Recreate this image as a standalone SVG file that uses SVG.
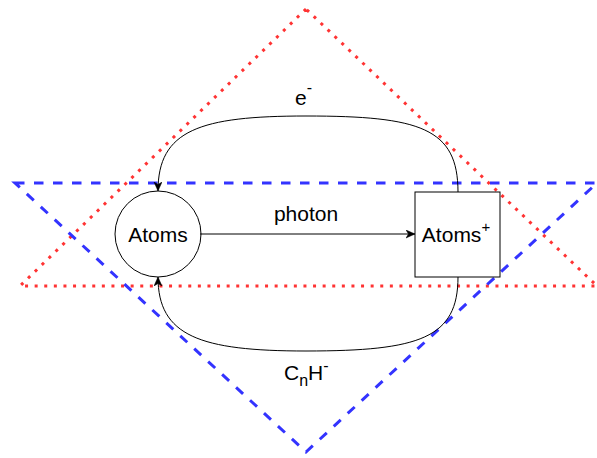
<svg xmlns="http://www.w3.org/2000/svg" width="597" height="458" viewBox="0 0 597 458">
  <style>
    .lbl { font-family: "Liberation Sans", Arial, sans-serif; font-size: 21px; fill: #000; }
    .node { fill: #fff; stroke: #000; stroke-width: 1; }
    .edge { fill: none; stroke: #000; stroke-width: 1; }
    .red { fill: none; stroke: #FF3333; stroke-width: 3; stroke-dasharray: 3 6.6; }
    .blue { fill: none; stroke: #3333FF; stroke-width: 3; stroke-dasharray: 9.5 9.5; }
  </style>
  <defs>
    <marker id="arrow" markerUnits="userSpaceOnUse" markerWidth="12" markerHeight="10" refX="9" refY="4" orient="auto">
      <path d="M0,0 L9,4 L0,8 L2.5,4 Z" fill="#000" stroke="#000" stroke-width="0.5"/>
    </marker>
  </defs>

  <g id="triangles">
    <polygon class="red" points="306,9 20,286 597,286"/>
    <polygon class="blue" points="15,183 597,183 306,452"/>
  </g>

  <g id="node-atoms">
    <ellipse class="node" cx="158" cy="234" rx="43" ry="43"/>
    <text class="lbl" x="158" y="242" text-anchor="middle">Atoms</text>
  </g>

  <g id="node-atoms-plus">
    <rect class="node" x="415" y="192" width="85" height="85"/>
    <text class="lbl" x="456" y="242" text-anchor="middle">Atoms<tspan font-size="15" dy="-10">+</tspan></text>
  </g>

  <g id="connectors">
    <path class="edge" d="M200,234 L415,234" marker-end="url(#arrow)"/>
    <path class="edge" d="M458,192 C458,128 420,116 306,116 C200,116 158,130 158,191" marker-end="url(#arrow)"/>
    <path class="edge" d="M458,277 C458,338 420,351 306,351 C200,351 158,336 158,277" marker-end="url(#arrow)"/>
  </g>

  <g id="labels">
    <text class="lbl" x="306" y="221" text-anchor="middle">photon</text>
    <text class="lbl" x="295" y="105" font-size="25">e<tspan font-size="16" dy="-12">-</tspan></text>
    <text class="lbl" x="284" y="380">C<tspan font-size="16" dy="6">n</tspan><tspan dy="-6">H</tspan><tspan font-size="16" dy="-9">-</tspan></text>
  </g>
</svg>
